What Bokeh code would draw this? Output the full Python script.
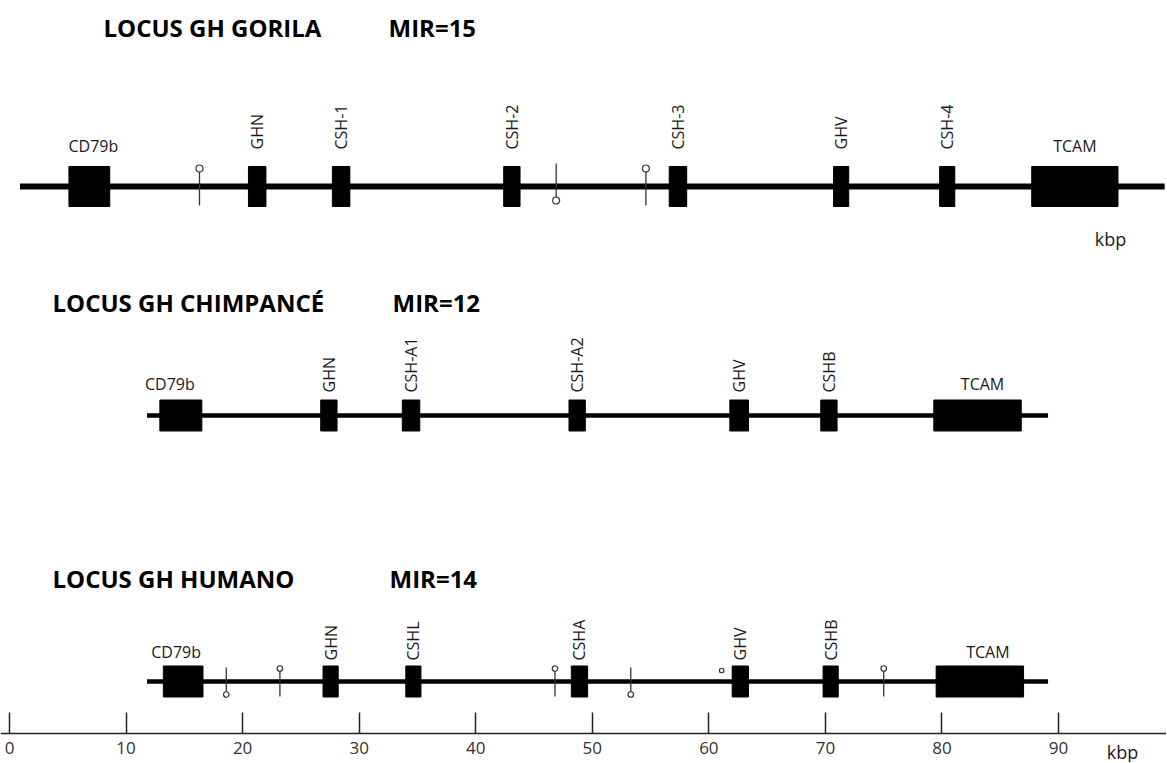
from math import pi
from bokeh.plotting import figure
from bokeh.models import Range1d, LinearAxis, FixedTicker
from bokeh.core.properties import value
from bokeh.embed import file_html
from bokeh.resources import INLINE

# ---------------- data (kbp) ----------------
gorila_genes = ["CD79b", "GHN", "CSH-1", "CSH-2", "CSH-3", "GHV", "CSH-4", "TCAM"]
gorila_start = [5.1, 20.5, 27.7, 42.4, 56.6, 70.7, 79.8, 87.7]
gorila_end = [8.6, 22.0, 29.2, 43.8, 58.1, 72.0, 81.1, 95.1]
gorila_span = [0.9, 99.1]
gorila_mir_pos = [16.3, 46.9, 54.6]
gorila_mir_dir = ["up", "down", "up"]

chimp_genes = ["CD79b", "GHN", "CSH-A1", "CSH-A2", "GHV", "CSHB", "TCAM"]
chimp_start = [12.9, 26.7, 33.7, 48.0, 61.8, 69.6, 79.3]
chimp_end = [16.5, 28.1, 35.2, 49.4, 63.4, 71.0, 86.8]
chimp_span = [11.8, 89.1]
chimp_mir_pos = []
chimp_mir_dir = []

human_genes = ["CD79b", "GHN", "CSHL", "CSHA", "GHV", "CSHB", "TCAM"]
human_start = [13.2, 26.9, 34.0, 48.2, 62.0, 69.8, 79.5]
human_end = [16.6, 28.2, 35.3, 49.6, 63.4, 71.1, 87.0]
human_span = [11.8, 89.1]
human_mir_pos = [18.6, 23.2, 46.8, 53.3, 61.1, 75.0]
human_mir_dir = ["down", "up", "up", "down", "dot", "up"]

titles = ["LOCUS GH GORILA", "LOCUS GH CHIMPANCÉ", "LOCUS GH HUMANO"]
mir_counts = ["MIR=15", "MIR=12", "MIR=14"]
scale_ticks = [0, 10, 20, 30, 40, 50, 60, 70, 80, 90]
scale_unit = "kbp"
horizontal_labels = ["CD79b", "TCAM"]

# ---------------- layout (pixels) ----------------
PX_PER_KBP = 11.656
X0_PX = 9.0  # pixel position of 0 kbp


def px2k(px):
    return (px - X0_PX) / PX_PER_KBP


FONT = "Open Sans"
TXT = "#1a1a1a"

rows = [
    dict(y=186, h=40, lw=6, vgap=37, hgap=41, ty=27, tx=103, mx=388,
         up=(-18, 19), down=(-23, 11, 14), dot_size=7, hdx={"CD79b": 4, "TCAM": 0}),
    dict(y=415, h=31, lw=4.5, vgap=23, hgap=32, ty=302, tx=52, mx=392,
         up=(-14, 15), down=(-14, 11, 13), dot_size=5.5, hdx={"CD79b": -11, "TCAM": 5}),
    dict(y=681, h=31, lw=4.5, vgap=21, hgap=30, ty=578, tx=52, mx=389,
         up=(-13, 15), down=(-14, 11, 13), dot_size=5.5, hdx={"CD79b": -7, "TCAM": 8}),
]

loci = [
    (gorila_genes, gorila_start, gorila_end, gorila_span, gorila_mir_pos, gorila_mir_dir),
    (chimp_genes, chimp_start, chimp_end, chimp_span, chimp_mir_pos, chimp_mir_dir),
    (human_genes, human_start, human_end, human_span, human_mir_pos, human_mir_dir),
]

FRAME_W = 1166
FRAME_H = 762
AXIS_Y = 733
x_start = px2k(0)
p = figure(frame_width=FRAME_W, frame_height=FRAME_H,
           x_range=Range1d(x_start, x_start + FRAME_W / PX_PER_KBP),
           y_range=Range1d(FRAME_H, 0),
           x_axis_type=None, y_axis_type=None,
           output_backend="svg", toolbar_location=None,
           min_border=0, outline_line_color=None)

for (genes, st, en, span, mpos, mdir), lay, title, mir in zip(loci, rows, titles, mir_counts):
    y = lay["y"]
    # backbone line
    p.segment(x0=[span[0]], x1=[span[1]], y0=[y], y1=[y], line_width=lay["lw"],
              line_color="black", line_cap="butt")
    # MIR pins
    for pos, d in zip(mpos, mdir):
        if d == "up":
            p.segment(x0=[pos], x1=[pos], y0=[y + lay["up"][0]], y1=[y + lay["up"][1]],
                      line_width=1.3, line_color="#333333")
            p.scatter(x=[pos], y=[y + lay["up"][0]], size=lay["dot_size"], marker="circle",
                      fill_color="white", line_color="#333333", line_width=1.2)
        elif d == "down":
            p.segment(x0=[pos], x1=[pos], y0=[y + lay["down"][0]], y1=[y + lay["down"][1]],
                      line_width=1.3, line_color="#333333")
            p.scatter(x=[pos], y=[y + lay["down"][2]], size=lay["dot_size"], marker="circle",
                      fill_color="white", line_color="#333333", line_width=1.2)
        else:
            p.scatter(x=[pos], y=[y + lay["up"][0] + 2], size=lay["dot_size"] - 1, marker="circle",
                      fill_color="white", line_color="#333333", line_width=1.2)
    # gene boxes
    p.quad(left=st, right=en, top=[y - lay["h"] / 2] * len(st), bottom=[y + lay["h"] / 2] * len(st),
           fill_color="black", line_color="black")
    # gene labels
    for g, a, b in zip(genes, st, en):
        c = (a + b) / 2
        if g in horizontal_labels:
            p.text(x=[c + lay["hdx"].get(g, 0) / PX_PER_KBP], y=[y - lay["hgap"]], text=[g],
                   text_align="center", text_baseline="middle", text_font=value(FONT),
                   text_font_size="16px", text_color=TXT)
        else:
            p.text(x=[c], y=[y - lay["vgap"]], text=[g], angle=pi / 2, text_align="left",
                   text_baseline="middle", text_font=value(FONT),
                   text_font_size="16px", text_color=TXT)
    # titles
    p.text(x=[px2k(lay["tx"])], y=[lay["ty"]], text=[title], text_align="left",
           text_baseline="middle", text_font=value(FONT), text_font_style="bold",
           text_font_size="24px", text_color="black")
    p.text(x=[px2k(lay["mx"])], y=[lay["ty"]], text=[mir], text_align="left",
           text_baseline="middle", text_font=value(FONT), text_font_style="bold",
           text_font_size="24px", text_color="black")

# kbp label under gorilla locus
p.text(x=[px2k(1110)], y=[238], text=[scale_unit], text_align="center", text_baseline="middle",
       text_font=value(FONT), text_font_size="18px", text_color=TXT)

# scale axis, drawn inside the frame at a fixed location
ax = LinearAxis(ticker=FixedTicker(ticks=scale_ticks), fixed_location=AXIS_Y,
                major_tick_in=21, major_tick_out=0, minor_tick_in=0, minor_tick_out=0,
                axis_line_width=1.5, axis_line_color="#222222",
                major_tick_line_width=1.5, major_tick_line_color="#222222",
                major_label_standoff=8, major_label_text_font=FONT,
                major_label_text_align="left",
                major_label_text_font_size="17px", major_label_text_color="#333333")
p.add_layout(ax, "below")

# unit label of the scale
p.text(x=[px2k(1122)], y=[751], text=[scale_unit], text_align="center", text_baseline="middle",
       text_font=value(FONT), text_font_size="18px", text_color=TXT)

open("out.html", "w").write(file_html(p, INLINE))
